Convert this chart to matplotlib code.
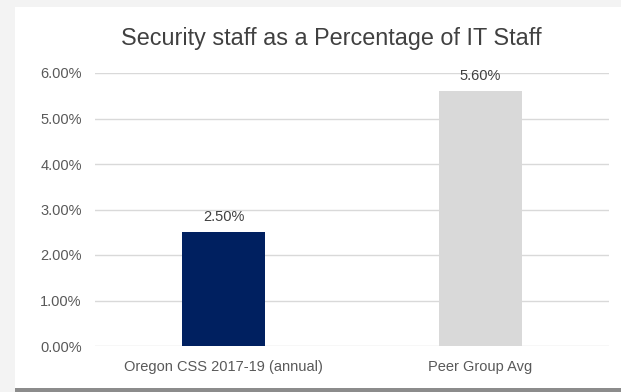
import matplotlib
matplotlib.use("Agg")
import matplotlib.pyplot as plt
from matplotlib.patches import Rectangle

categories = ["Oregon CSS 2017-19 (annual)", "Peer Group Avg"]
values = [0.025, 0.056]
bar_colors = ["#002060", "#d9d9d9"]
yticks = [0.0, 0.01, 0.02, 0.03, 0.04, 0.05, 0.06]
title = "Security staff as a Percentage of IT Staff"

plt.rcParams["font.family"] = ["Liberation Sans", "DejaVu Sans"]
W, H = 621, 392
fig = plt.figure(figsize=(W / 100, H / 100), dpi=100, facecolor="#f3f3f3")

# card background + bottom shadow
fig.patches.append(Rectangle((15 / W, 0), 1, 4 / H, transform=fig.transFigure,
                             facecolor="#8c8c8c", edgecolor="none", zorder=-2))
fig.patches.append(Rectangle((15 / W, 4 / H), 1, (H - 11) / H, transform=fig.transFigure,
                             facecolor="white", edgecolor="none", zorder=-2))

ax = fig.add_axes([95 / W, 46 / H, 514 / W, 273 / H])
ax.set_facecolor("none")
x = range(len(categories))
bars = ax.bar(x, values, width=0.32, color=bar_colors, zorder=2)
ax.set_xlim(-0.5, len(categories) - 0.5)
ax.set_ylim(0, 0.06)
ax.set_yticks(yticks)
ax.set_yticklabels(["%.2f%%" % (v * 100) for v in yticks])
ax.set_xticks(list(x))
ax.set_xticklabels(categories)
ax.grid(axis="y", color="#d9d9d9", linewidth=1, zorder=0)
ax.set_axisbelow(True)
for s in ax.spines.values():
    s.set_visible(False)
ax.tick_params(length=0, labelsize=10.5, colors="#595959")
ax.tick_params(axis="y", pad=9.5)
ax.tick_params(axis="x", pad=10)

for b, v in zip(bars, values):
    ax.annotate("%.2f%%" % (v * 100), (b.get_x() + b.get_width() / 2, v),
                xytext=(0, 6), textcoords="offset points", ha="center", va="bottom",
                fontsize=10.5, color="#404040", zorder=3)

fig.text(331 / W, 1 - 38 / H, title, ha="center", va="center", fontsize=16.8, color="#404040")

fig.savefig("out.png", dpi=100, facecolor=fig.get_facecolor())
